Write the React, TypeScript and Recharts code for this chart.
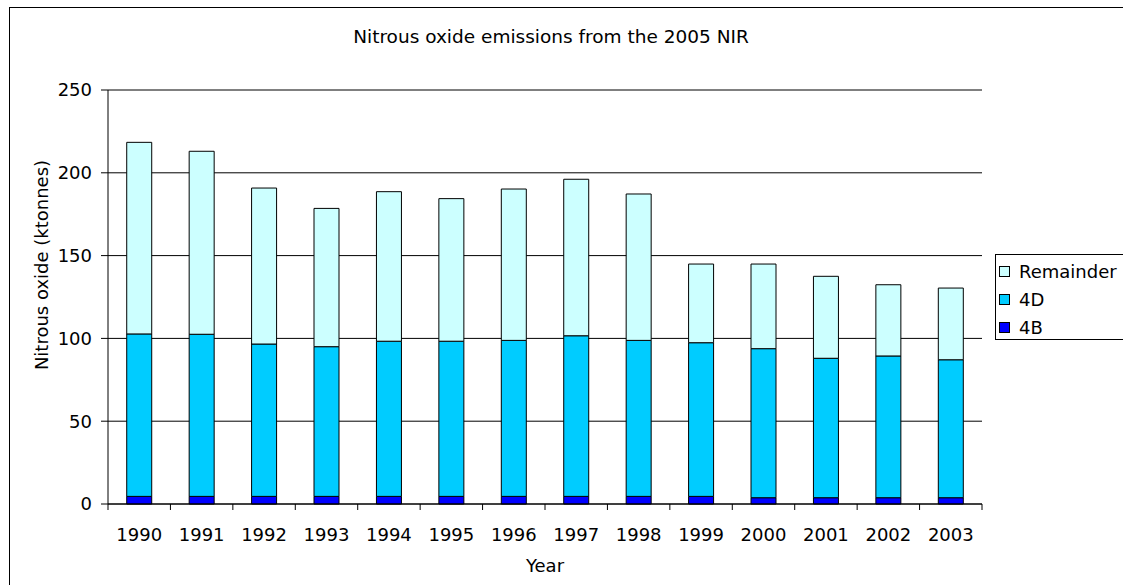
import React from "react";
import {
  BarChart,
  Bar,
  XAxis,
  YAxis,
  CartesianGrid,
  Legend,
} from "recharts";

const years = ["1990", "1991", "1992", "1993", "1994", "1995", "1996", "1997", "1998", "1999", "2000", "2001", "2002", "2003"];
const n4B = [4.6, 4.6, 4.6, 4.6, 4.6, 4.6, 4.6, 4.6, 4.6, 4.6, 3.8, 3.8, 3.8, 3.8];
const n4D = [98.1, 97.9, 92.0, 90.4, 93.7, 93.7, 94.2, 97.0, 94.2, 92.8, 90.0, 84.2, 85.6, 83.3];
const remainder = [115.7, 110.5, 94.2, 83.5, 90.3, 86.1, 91.4, 94.5, 88.4, 47.5, 51.1, 49.5, 43.0, 43.3];
const yTicks = [0, 50, 100, 150, 200, 250];

const FONT = "'DejaVu Sans', Verdana, sans-serif";
const W = 1123;
const H = 585;

const data = years.map((y, i) => ({
  year: y,
  "4B": n4B[i],
  "4D": n4D[i],
  Remainder: remainder[i],
}));

// Excel puts the category ticks between the bars, not under them
function YearTick(props: any) {
  const { x, y, payload, index, width, visibleTicksCount } = props;
  const count = visibleTicksCount || years.length;
  const step = (width || 874) / count;
  const left = x - step / 2;
  return (
    <g>
      <line x1={left} x2={left} y1={y} y2={y + 6} stroke="#000" />
      {index === count - 1 && (
        <line x1={left + step} x2={left + step} y1={y} y2={y + 6} stroke="#000" />
      )}
      <text x={x} y={y + 37} textAnchor="middle" fontSize={18} fontFamily={FONT} fill="#000">
        {payload.value}
      </text>
    </g>
  );
}

function LegendBox(props: any) {
  const items = [...(props.payload || [])].reverse();
  return (
    <div
      style={{
        border: "1px solid #000",
        background: "#fff",
        width: 150,
        height: 86,
        boxSizing: "border-box",
        padding: "2px 0 0 3px",
        fontFamily: FONT,
        fontSize: 18,
        color: "#000",
      }}
    >
      {items.map((it: any) => (
        <div key={it.value} style={{ display: "flex", alignItems: "center", height: 28 }}>
          <span
            style={{
              display: "inline-block",
              width: 9,
              height: 9,
              border: "1px solid #000",
              background: it.color,
              marginRight: 9,
            }}
          />
          {it.value}
        </div>
      ))}
    </div>
  );
}

export default function App() {
  return (
    <div style={{ position: "relative", width: W, height: H, overflow: "hidden", background: "#fff" }}>
      <style>{`html,body{margin:0;overflow:hidden}`}</style>
      <div
        style={{
          position: "absolute",
          left: 9,
          top: 7,
          width: 1200,
          height: 700,
          border: "1px solid #000",
        }}
      />
      <div
        style={{
          position: "absolute",
          left: 0,
          top: 26,
          width: 1102,
          textAlign: "center",
          fontFamily: FONT,
          fontSize: 18.5,
          color: "#000",
        }}
      >
        Nitrous oxide emissions from the 2005 NIR
      </div>
      <div style={{ position: "absolute", left: 0, top: 0 }}>
        <BarChart
          width={W}
          height={H}
          data={data}
          margin={{ top: 90, right: 141, bottom: 0, left: 0 }}
          barCategoryGap="30%"
        >
          <CartesianGrid vertical={false} stroke="#000" />
          <XAxis
            dataKey="year"
            height={81}
            tickLine={false}
            tickSize={0}
            tickMargin={0}
            axisLine={{ stroke: "#000" }}
            tick={<YearTick />}
            interval={0}
            label={{
              value: "Year",
              position: "insideBottom",
              offset: 13,
              fontSize: 18,
              fontFamily: FONT,
              fill: "#000",
            }}
          />
          <YAxis
            domain={[0, 250]}
            ticks={yTicks}
            width={108}
            tickSize={7}
            tickMargin={9}
            tickLine={{ stroke: "#000" }}
            axisLine={{ stroke: "#000" }}
            tick={{ fontSize: 18, fontFamily: FONT, fill: "#000" }}
            label={{
              content: () => (
                <text
                  x={41}
                  y={265}
                  transform="rotate(-90, 41, 265)"
                  textAnchor="middle"
                  dominantBaseline="central"
                  fontSize={18}
                  fontFamily={FONT}
                  fill="#000"
                >
                  Nitrous oxide (ktonnes)
                </text>
              ),
            }}
          />
          <YAxis
            yAxisId="frame"
            orientation="right"
            width={0}
            tick={false}
            tickLine={false}
            axisLine={{ stroke: "#000" }}
            domain={[0, 250]}
          />
          <Legend
            layout="vertical"
            align="center"
            verticalAlign="middle"
            content={<LegendBox />}
            wrapperStyle={{ position: "absolute", left: 995, top: 254, width: 150 }}
          />
          <Bar dataKey="4B" stackId="a" fill="#0000FF" stroke="#000" strokeWidth={1} isAnimationActive={false} />
          <Bar dataKey="4D" stackId="a" fill="#00CCFF" stroke="#000" strokeWidth={1} isAnimationActive={false} />
          <Bar dataKey="Remainder" stackId="a" fill="#CCFFFF" stroke="#000" strokeWidth={1} isAnimationActive={false} />
        </BarChart>
      </div>
    </div>
  );
}
